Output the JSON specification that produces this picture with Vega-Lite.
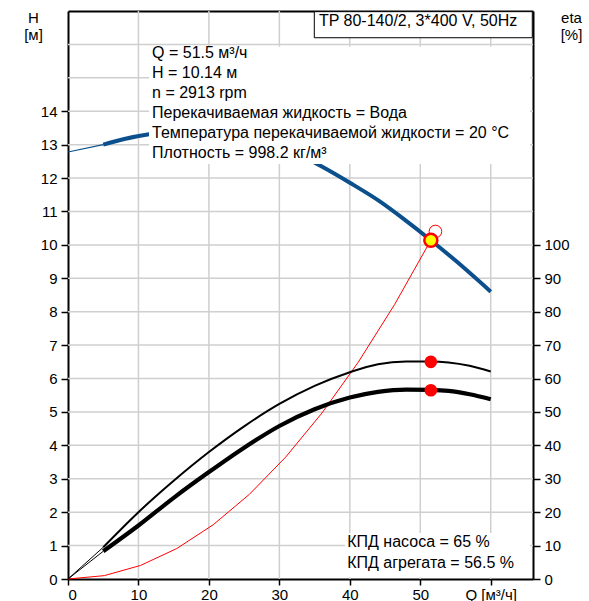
{
  "$schema": "https://vega.github.io/schema/vega-lite/v6.json",
  "width": 465,
  "height": 568,
  "autosize": {"type": "none"},
  "padding": {"left": 68, "top": 11, "right": 56, "bottom": 22},
  "config": {
    "font": "Liberation Sans",
    "view": {"stroke": null},
    "axis": {
      "grid": false,
      "labelFont": "Liberation Sans",
      "labelFontSize": 15,
      "labelColor": "black",
      "tickColor": "black",
      "tickWidth": 1.5,
      "tickSize": 7,
      "domainColor": "black",
      "domainWidth": 2,
      "titleFont": "Liberation Sans",
      "titleFontSize": 15,
      "titleFontWeight": "normal",
      "titleColor": "black"
    }
  },
  "datasets": {
    "gridQ": [
      {"Q": 10}, {"Q": 20}, {"Q": 30}, {"Q": 40}, {"Q": 50}, {"Q": 60}
    ],
    "gridH": [
      {"H": 1}, {"H": 2}, {"H": 3}, {"H": 4}, {"H": 5}, {"H": 6}, {"H": 7}, {"H": 8}, {"H": 9},
      {"H": 10}, {"H": 11}, {"H": 12}, {"H": 13}, {"H": 14}, {"H": 15}, {"H": 16}
    ],
    "head": [
      {"seg": "ext", "Q": 0, "H": 12.78},
      {"seg": "ext", "Q": 5, "H": 13.0},
      {"seg": "main", "Q": 5, "H": 13.0},
      {"seg": "main", "Q": 8, "H": 13.17},
      {"seg": "main", "Q": 11.5, "H": 13.31},
      {"seg": "main", "Q": 15, "H": 13.4},
      {"seg": "main", "Q": 20, "H": 13.42},
      {"seg": "main", "Q": 25, "H": 13.3},
      {"seg": "main", "Q": 30, "H": 13.0},
      {"seg": "main", "Q": 35.9, "H": 12.36},
      {"seg": "main", "Q": 40, "H": 11.86},
      {"seg": "main", "Q": 44.2, "H": 11.31},
      {"seg": "main", "Q": 48, "H": 10.72},
      {"seg": "main", "Q": 51.5, "H": 10.14},
      {"seg": "main", "Q": 55, "H": 9.53},
      {"seg": "main", "Q": 60, "H": 8.6}
    ],
    "system": [
      {"Q": 0, "H": 0},
      {"Q": 5.15, "H": 0.101},
      {"Q": 10.3, "H": 0.406},
      {"Q": 15.45, "H": 0.913},
      {"Q": 20.6, "H": 1.622},
      {"Q": 25.75, "H": 2.535},
      {"Q": 30.9, "H": 3.65},
      {"Q": 36.05, "H": 4.969},
      {"Q": 41.2, "H": 6.49},
      {"Q": 46.35, "H": 8.213},
      {"Q": 51.5, "H": 10.14}
    ],
    "eff": [
      {"series": "pump_ext", "Q": 0, "eta": 0},
      {"series": "pump_ext", "Q": 5, "eta": 9.5},
      {"series": "pump", "Q": 5, "eta": 9.5},
      {"series": "pump", "Q": 10, "eta": 20},
      {"series": "pump", "Q": 15, "eta": 29.4},
      {"series": "pump", "Q": 20, "eta": 38},
      {"series": "pump", "Q": 25, "eta": 45.7},
      {"series": "pump", "Q": 30, "eta": 52.4},
      {"series": "pump", "Q": 35, "eta": 57.8},
      {"series": "pump", "Q": 40, "eta": 61.9},
      {"series": "pump", "Q": 44, "eta": 64.3},
      {"series": "pump", "Q": 48, "eta": 65.1},
      {"series": "pump", "Q": 51.5, "eta": 65.1},
      {"series": "pump", "Q": 54, "eta": 64.8},
      {"series": "pump", "Q": 57, "eta": 63.8},
      {"series": "pump", "Q": 60, "eta": 62.1},
      {"series": "total_ext", "Q": 0, "eta": 0},
      {"series": "total_ext", "Q": 5, "eta": 8.3},
      {"series": "total", "Q": 5, "eta": 8.3},
      {"series": "total", "Q": 10, "eta": 16},
      {"series": "total", "Q": 15, "eta": 24.3},
      {"series": "total", "Q": 20, "eta": 32},
      {"series": "total", "Q": 25, "eta": 39.3},
      {"series": "total", "Q": 30, "eta": 45.8},
      {"series": "total", "Q": 35, "eta": 50.8},
      {"series": "total", "Q": 40, "eta": 54.3},
      {"series": "total", "Q": 44, "eta": 56},
      {"series": "total", "Q": 48, "eta": 56.7},
      {"series": "total", "Q": 51.5, "eta": 56.6},
      {"series": "total", "Q": 54, "eta": 56.3},
      {"series": "total", "Q": 57, "eta": 55.3},
      {"series": "total", "Q": 60, "eta": 53.8}
    ],
    "effpts": [
      {"Q": 51.5, "eta": 65},
      {"Q": 51.5, "eta": 56.5}
    ],
    "duty": [
      {"kind": "requested", "Q": 52.15, "H": 10.4},
      {"kind": "actual", "Q": 51.5, "H": 10.14}
    ],
    "boxes": [
      {"box": "info", "Q": 11.5, "Q2": 65.6, "H": 12.42, "H2": 15.93},
      {"box": "eff", "Q": 39.3, "Q2": 65.6, "H": 0.05, "H2": 1.38}
    ],
    "titlebox": [
      {"Q": 34.96, "Q2": 65.9, "H": 16.2, "H2": 16.98}
    ],
    "texts": [
      {"name": "info", "Q": 11.93, "H": 15.59, "label": "Q = 51.5 м³/ч\nH = 10.14 м\nn = 2913 rpm\nПерекачиваемая жидкость = Вода\nТемпература перекачиваемой жидкости = 20 °C\nПлотность = 998.2 кг/м³"},
      {"name": "eff", "Q": 39.63, "H": 0.95, "label": "КПД насоса = 65 %\nКПД агрегата = 56.5 %"},
      {"name": "title", "Q": 35.62, "H": 16.54, "label": "TP 80-140/2, 3*400 V, 50Hz"}
    ]
  },
  "layer": [
    {
      "layer": [
        {
          "data": {"name": "gridQ"},
          "mark": {"type": "rule", "color": "#cfcfcf", "strokeWidth": 1.5},
          "encoding": {
            "x": {"field": "Q", "type": "quantitative", "scale": {"domain": [0, 66], "nice": false, "zero": false}, "axis": {"orient": "bottom", "title": null, "values": [0, 10, 20, 30, 40, 50, 60], "grid": false, "tickSize": 6, "labelPadding": 2, "labelExpr": "datum.value == 60 ? 'Q [м³/ч]' : datum.label"}},
            "y": {"datum": 0, "type": "quantitative", "scale": {"domain": [0, 17], "nice": false}, "axis": {"orient": "left", "values": [0, 1, 2, 3, 4, 5, 6, 7, 8, 9, 10, 11, 12, 13, 14], "grid": false, "labelPadding": 4, "title": ["H", "[м]"], "titleAngle": 0, "titleAlign": "center", "titleBaseline": "top", "titleLineHeight": 17, "titleX": -35, "titleY": -1}},
            "y2": {"datum": 17}
          }
        },
        {
          "data": {"name": "gridH"},
          "mark": {"type": "rule", "color": "#cfcfcf", "strokeWidth": 1.5},
          "encoding": {
            "y": {"field": "H", "type": "quantitative"},
            "x": {"datum": 0, "type": "quantitative"},
            "x2": {"datum": 66}
          }
        },
        {
          "data": {"name": "head"},
          "transform": [{"filter": "datum.seg == 'ext'"}],
          "mark": {"type": "line", "color": "#0b4f8c", "strokeWidth": 1.2, "interpolate": "monotone", "strokeCap": "butt"},
          "encoding": {
            "x": {"field": "Q", "type": "quantitative"},
            "y": {"field": "H", "type": "quantitative"}
          }
        },
        {
          "data": {"name": "head"},
          "transform": [{"filter": "datum.seg == 'main'"}],
          "mark": {"type": "line", "color": "#0b4f8c", "strokeWidth": 4, "interpolate": "monotone", "strokeCap": "butt"},
          "encoding": {
            "x": {"field": "Q", "type": "quantitative"},
            "y": {"field": "H", "type": "quantitative"}
          }
        },
        {
          "data": {"name": "boxes"},
          "mark": {"type": "rect", "fill": "white"},
          "encoding": {
            "x": {"field": "Q", "type": "quantitative"},
            "x2": {"field": "Q2"},
            "y": {"field": "H", "type": "quantitative"},
            "y2": {"field": "H2"}
          }
        },
        {
          "data": {"name": "titlebox"},
          "mark": {"type": "rect", "fill": "white", "stroke": "black", "strokeWidth": 1},
          "encoding": {
            "x": {"field": "Q", "type": "quantitative"},
            "x2": {"field": "Q2"},
            "y": {"field": "H", "type": "quantitative"},
            "y2": {"field": "H2"}
          }
        },
        {
          "data": {"name": "system"},
          "mark": {"type": "line", "color": "#ff0000", "strokeWidth": 1},
          "encoding": {
            "x": {"field": "Q", "type": "quantitative"},
            "y": {"field": "H", "type": "quantitative"}
          }
        },
        {
          "data": {"name": "duty"},
          "transform": [{"filter": "datum.kind == 'requested'"}],
          "mark": {"type": "point", "shape": "circle", "filled": false, "stroke": "#ff0000", "strokeWidth": 1, "size": 160, "opacity": 1},
          "encoding": {
            "x": {"field": "Q", "type": "quantitative"},
            "y": {"field": "H", "type": "quantitative"}
          }
        },
        {
          "data": {"name": "duty"},
          "transform": [{"filter": "datum.kind == 'actual'"}],
          "mark": {"type": "point", "shape": "circle", "filled": true, "fill": "#ffff00", "stroke": "#ff0000", "strokeWidth": 2.5, "size": 170, "opacity": 1},
          "encoding": {
            "x": {"field": "Q", "type": "quantitative"},
            "y": {"field": "H", "type": "quantitative"}
          }
        },
        {
          "data": {"name": "texts"},
          "transform": [{"filter": "datum.name == 'info'"}],
          "mark": {"type": "text", "align": "left", "baseline": "alphabetic", "font": "Liberation Sans", "fontSize": 16, "lineBreak": "\n", "lineHeight": 20, "color": "black"},
          "encoding": {
            "x": {"field": "Q", "type": "quantitative"},
            "y": {"field": "H", "type": "quantitative"},
            "text": {"field": "label"}
          }
        },
        {
          "data": {"name": "texts"},
          "transform": [{"filter": "datum.name == 'eff'"}],
          "mark": {"type": "text", "align": "left", "baseline": "alphabetic", "font": "Liberation Sans", "fontSize": 16, "lineBreak": "\n", "lineHeight": 21, "color": "black"},
          "encoding": {
            "x": {"field": "Q", "type": "quantitative"},
            "y": {"field": "H", "type": "quantitative"},
            "text": {"field": "label"}
          }
        },
        {
          "data": {"name": "texts"},
          "transform": [{"filter": "datum.name == 'title'"}],
          "mark": {"type": "text", "align": "left", "baseline": "alphabetic", "font": "Liberation Sans", "fontSize": 16, "color": "black"},
          "encoding": {
            "x": {"field": "Q", "type": "quantitative"},
            "y": {"field": "H", "type": "quantitative"},
            "text": {"field": "label"}
          }
        }
      ]
    },
    {
      "encoding": {
        "x": {
          "field": "Q",
          "type": "quantitative",
          "scale": {"domain": [0, 66], "nice": false, "zero": false},
          "axis": {"orient": "top", "title": null, "grid": false, "ticks": false, "labels": false, "domain": true}
        },
        "y": {
          "field": "eta",
          "type": "quantitative",
          "scale": {"domain": [0, 170], "nice": false},
          "axis": {
            "orient": "right",
            "values": [0, 10, 20, 30, 40, 50, 60, 70, 80, 90, 100],
            "grid": false,
            "labelPadding": 4,
            "title": ["eta", "[%]"],
            "titleAngle": 0,
            "titleAlign": "center",
            "titleBaseline": "top",
            "titleLineHeight": 17,
            "titleX": 38,
            "titleY": -1
          }
        }
      },
      "layer": [
        {
          "data": {"name": "eff"},
          "transform": [{"filter": "datum.series == 'pump_ext'"}],
          "mark": {"type": "line", "color": "black", "strokeWidth": 1, "interpolate": "monotone", "strokeCap": "butt"},
          "encoding": {}
        },
        {
          "data": {"name": "eff"},
          "transform": [{"filter": "datum.series == 'pump'"}],
          "mark": {"type": "line", "color": "black", "strokeWidth": 2, "interpolate": "monotone", "strokeCap": "butt"},
          "encoding": {}
        },
        {
          "data": {"name": "eff"},
          "transform": [{"filter": "datum.series == 'total_ext'"}],
          "mark": {"type": "line", "color": "black", "strokeWidth": 1, "interpolate": "monotone", "strokeCap": "butt"},
          "encoding": {}
        },
        {
          "data": {"name": "eff"},
          "transform": [{"filter": "datum.series == 'total'"}],
          "mark": {"type": "line", "color": "black", "strokeWidth": 4.2, "interpolate": "monotone", "strokeCap": "butt"},
          "encoding": {}
        },
        {
          "data": {"name": "effpts"},
          "mark": {"type": "point", "shape": "circle", "filled": true, "color": "#ff0000", "size": 160, "opacity": 1},
          "encoding": {}
        }
      ]
    }
  ],
  "resolve": {"scale": {"y": "independent"}, "axis": {"x": "independent", "y": "independent"}}
}
